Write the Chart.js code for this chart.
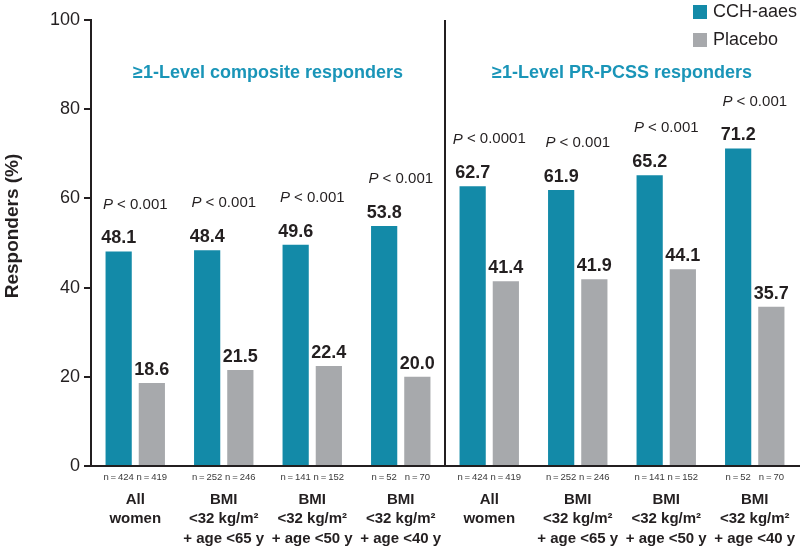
<!DOCTYPE html>
<html lang="en">
<head>
<meta charset="UTF-8">
<title>Responders by subgroup</title>
<script src="https://cdn.jsdelivr.net/npm/chart.js"></script>
<style>
  html, body { margin: 0; padding: 0; background: #fff; }
  #wrap { width: 800px; height: 549px; }
</style>
</head>
<body>
<div id="wrap"><canvas id="chartCanvas"></canvas></div>
<script>
// data
const groupLabels = [
    ['All', 'women'],
    ['BMI', '<32 kg/m²', '+ age <65 y'],
    ['BMI', '<32 kg/m²', '+ age <50 y'],
    ['BMI', '<32 kg/m²', '+ age <40 y'],
    ['All', 'women'],
    ['BMI', '<32 kg/m²', '+ age <65 y'],
    ['BMI', '<32 kg/m²', '+ age <50 y'],
    ['BMI', '<32 kg/m²', '+ age <40 y']
];
const cchValues = [48.1, 48.4, 49.6, 53.8, 62.7, 61.9, 65.2, 71.2];
const placeboValues = [18.6, 21.5, 22.4, 20.0, 41.4, 41.9, 44.1, 35.7];
const cchN = [424, 252, 141, 52, 424, 252, 141, 52];
const placeboN = [419, 246, 152, 70, 419, 246, 152, 70];
const pValues = ['0.001', '0.001', '0.001', '0.001', '0.0001', '0.001', '0.001', '0.001'];
const panelTitles = ['≥1-Level composite responders', '≥1-Level PR-PCSS responders'];
const seriesNames = ['CCH-aaes', 'Placebo'];

const FONT = '"Liberation Sans", Arial, sans-serif';
const INK = '#231f20';
const TEAL = '#138aa8';
const GREY = '#a7a9ac';
const TITLE_TEAL = '#1a95b8';

const annotations = {
    id: 'annotations',
    afterDraw(chart) {
        const ctx = chart.ctx;
        const area = chart.chartArea;
        const x = chart.scales.x;
        const m0 = chart.getDatasetMeta(0);
        const m1 = chart.getDatasetMeta(1);
        ctx.save();

        // divider between the two panels
        const divX = (x.getPixelForValue(3) + x.getPixelForValue(4)) / 2;
        ctx.strokeStyle = INK;
        ctx.lineWidth = 2;
        ctx.beginPath();
        ctx.moveTo(divX, area.top);
        ctx.lineTo(divX, area.bottom);
        ctx.stroke();

        // panel titles
        ctx.fillStyle = TITLE_TEAL;
        ctx.font = 'bold 18px ' + FONT;
        ctx.textAlign = 'center';
        ctx.textBaseline = 'middle';
        ctx.fillText(panelTitles[0], (area.left + divX) / 2, 73);
        ctx.fillText(panelTitles[1], (divX + area.right) / 2, 73);

        // value labels above bars
        ctx.fillStyle = INK;
        ctx.font = 'bold 18px ' + FONT;
        [m0, m1].forEach((meta, d) => {
            const vals = d === 0 ? cchValues : placeboValues;
            meta.data.forEach((bar, i) => {
                ctx.fillText(vals[i].toFixed(1), bar.x, bar.y - 13);
            });
        });

        // p values above each group
        m0.data.forEach((bar, i) => {
            const cx = x.getPixelForValue(i);
            const y = bar.y - 47;
            ctx.font = 'italic 15px ' + FONT;
            const pW = ctx.measureText('P').width;
            ctx.font = '15px ' + FONT;
            const rest = ' < ' + pValues[i];
            const rW = ctx.measureText(rest).width;
            const start = cx - (pW + rW) / 2;
            ctx.textAlign = 'left';
            ctx.font = 'italic 15px ' + FONT;
            ctx.fillText('P', start, y);
            ctx.font = '15px ' + FONT;
            ctx.fillText(rest, start + pW, y);
        });

        // n labels under bars
        ctx.textAlign = 'center';
        ctx.font = '9.5px ' + FONT;
        ctx.fillStyle = '#3a3a3a';
        m0.data.forEach((bar, i) => ctx.fillText('n\u2009=\u2009' + cchN[i], bar.x, 477));
        m1.data.forEach((bar, i) => ctx.fillText('n\u2009=\u2009' + placeboN[i], bar.x, 477));

        // legend
        const colors = [TEAL, GREY];
        ctx.font = '18px ' + FONT;
        ctx.textAlign = 'left';
        seriesNames.forEach((name, i) => {
            const y = 12 + i * 28;
            ctx.fillStyle = colors[i];
            ctx.fillRect(693, y - 7, 14, 14);
            ctx.fillStyle = INK;
            ctx.fillText(name, 713, y);
        });

        // y axis title
        ctx.translate(13, 226);
        ctx.rotate(-Math.PI / 2);
        ctx.textAlign = 'center';
        ctx.font = 'bold 19px ' + FONT;
        ctx.fillText('Responders (%)', 0, 0);

        ctx.restore();
    }
};

const ctx = document.getElementById('chartCanvas').getContext('2d');
new Chart(ctx, {
    type: 'bar',
    data: {
        labels: groupLabels,
        datasets: [
            { label: seriesNames[0], data: cchValues, backgroundColor: TEAL },
            { label: seriesNames[1], data: placeboValues, backgroundColor: GREY }
        ]
    },
    options: {
        responsive: true,
        maintainAspectRatio: false,
        animation: false,
        categoryPercentage: 0.75,
        barPercentage: 0.79,
        layout: { padding: { top: 20, right: 1, left: 0, bottom: 0 } },
        plugins: {
            legend: { display: false },
            tooltip: { enabled: false }
        },
        scales: {
            x: {
                grid: { display: false, drawTicks: false },
                border: { display: true, color: INK, width: 2 },
                ticks: {
                    color: INK,
                    font: { family: FONT, size: 15, weight: 'bold', lineHeight: 1.3 },
                    padding: 24,
                    maxRotation: 0,
                    autoSkip: false
                },
                afterFit(scale) {
                    scale.height = 83;
                    // keep the last label from shrinking the plot
                    scale.paddingLeft = 0;
                    scale.paddingRight = 0;
                }
            },
            y: {
                min: 0,
                max: 100,
                grid: { display: true, drawOnChartArea: false, drawTicks: true, tickLength: 7, color: INK, lineWidth: 2 },
                border: { display: true, color: INK, width: 2 },
                ticks: {
                    stepSize: 20,
                    color: INK,
                    padding: 4,
                    font: { family: FONT, size: 18 }
                },
                afterFit(scale) { scale.width = 91; }
            }
        }
    },
    plugins: [annotations]
});
</script>
</body>
</html>
